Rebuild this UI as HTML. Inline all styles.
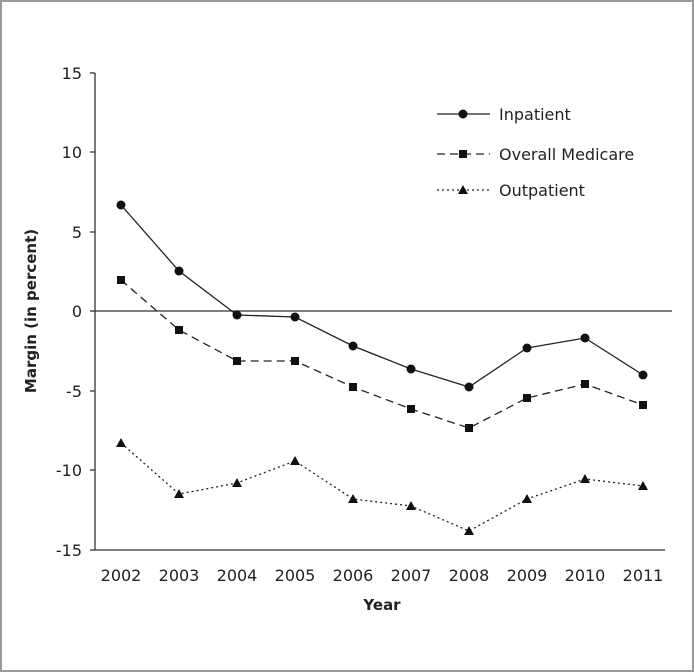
<!DOCTYPE html>
<html><head><style>
html,body{margin:0;padding:0;background:#fff}
svg{display:block}
text{font-family:"DejaVu Sans","Liberation Sans",sans-serif;fill:#222}
</style></head><body>
<svg width="694" height="672" viewBox="0 0 694 672">
<rect x="1" y="1" width="692" height="670" fill="#fff" stroke="#999" stroke-width="2"/>
<g stroke="#333" stroke-width="1.3" fill="none">
<line x1="95" y1="73" x2="95" y2="550"/>
<line x1="95" y1="550" x2="665" y2="550"/>
<line x1="95" y1="311" x2="672" y2="311"/>
<line x1="90" y1="73" x2="95" y2="73"/><line x1="90" y1="152" x2="95" y2="152"/>
<line x1="90" y1="232" x2="95" y2="232"/><line x1="90" y1="311" x2="95" y2="311"/>
<line x1="90" y1="391" x2="95" y2="391"/><line x1="90" y1="470" x2="95" y2="470"/>
<line x1="90" y1="550" x2="95" y2="550"/>
</g>
<g font-size="16" text-anchor="end">
<text x="82" y="79">15</text><text x="82" y="158">10</text><text x="82" y="238">5</text>
<text x="82" y="317">0</text><text x="82" y="397">-5</text><text x="82" y="476">-10</text><text x="82" y="556">-15</text>
</g>
<g font-size="16" text-anchor="middle">
<text x="121" y="581">2002</text><text x="179" y="581">2003</text><text x="237" y="581">2004</text>
<text x="295" y="581">2005</text><text x="353" y="581">2006</text><text x="411" y="581">2007</text>
<text x="469" y="581">2008</text><text x="527" y="581">2009</text><text x="585" y="581">2010</text>
<text x="643" y="581">2011</text>
<text x="382" y="610" font-size="15" font-weight="bold">Year</text>
<text x="0" y="0" font-size="15" font-weight="bold" transform="translate(36,311) rotate(-90)">Margin (in percent)</text>
</g>
<g fill="none" stroke="#222" stroke-width="1.3">
<polyline points="121,205 179,271 237,315 295,317 353,346 411,369 469,387 527,348 585,338 643,375"/>
<polyline stroke-dasharray="8,5" points="121,280 179,330 237,361 295,361 353,387 411,409 469,428 527,398 585,384 643,405"/>
<polyline stroke-dasharray="2,3" points="121,443 179,494 237,483 295,461 353,499 411,506 469,531 527,499 585,479 643,486"/>
<line x1="437" y1="114" x2="490" y2="114"/>
<line x1="437" y1="154" x2="490" y2="154" stroke-dasharray="8,5"/>
<line x1="437" y1="190" x2="490" y2="190" stroke-dasharray="2,3"/>
</g>
<g fill="#111">
<circle cx="121" cy="205" r="4.5"/><circle cx="179" cy="271" r="4.5"/><circle cx="237" cy="315" r="4.5"/>
<circle cx="295" cy="317" r="4.5"/><circle cx="353" cy="346" r="4.5"/><circle cx="411" cy="369" r="4.5"/>
<circle cx="469" cy="387" r="4.5"/><circle cx="527" cy="348" r="4.5"/><circle cx="585" cy="338" r="4.5"/>
<circle cx="643" cy="375" r="4.5"/><circle cx="463" cy="114" r="4.5"/>
<rect x="117" y="276" width="8" height="8"/><rect x="175" y="326" width="8" height="8"/><rect x="233" y="357" width="8" height="8"/>
<rect x="291" y="357" width="8" height="8"/><rect x="349" y="383" width="8" height="8"/><rect x="407" y="405" width="8" height="8"/>
<rect x="465" y="424" width="8" height="8"/><rect x="523" y="394" width="8" height="8"/><rect x="581" y="380" width="8" height="8"/>
<rect x="639" y="401" width="8" height="8"/><rect x="459" y="150" width="8" height="8"/>
<polygon points="121,438 126,447 116,447"/><polygon points="179,489 184,498 174,498"/><polygon points="237,478 242,487 232,487"/>
<polygon points="295,456 300,465 290,465"/><polygon points="353,494 358,503 348,503"/><polygon points="411,501 416,510 406,510"/>
<polygon points="469,526 474,535 464,535"/><polygon points="527,494 532,503 522,503"/><polygon points="585,474 590,483 580,483"/>
<polygon points="643,481 648,490 638,490"/><polygon points="463,185 468,194 458,194"/>
</g>
<g font-size="16">
<text x="499" y="120">Inpatient</text>
<text x="499" y="160">Overall Medicare</text>
<text x="499" y="196">Outpatient</text>
</g>
</svg>
</body></html>
